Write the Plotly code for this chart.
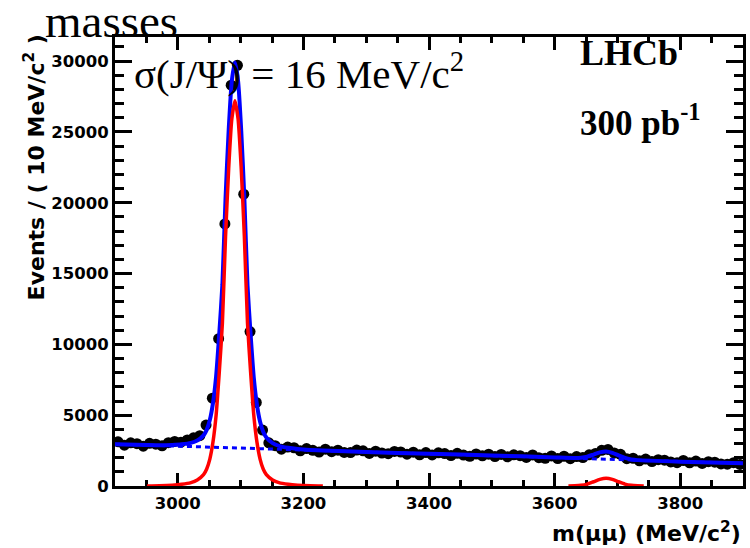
import plotly.graph_objects as go

# ---------------- data ----------------
bin_centers = list(range(2905, 3900, 10))  # 100 bins of 10 MeV/c^2
events = [
    3120, 2880, 3050, 2990, 2810, 3010, 2950, 2840, 3060, 3150,
    3090, 3250, 3400, 3550, 4300, 6200, 10400, 18500, 28300, 29700,
    20600, 10900, 5900, 3950, 3050, 2850, 2600, 2750, 2700, 2480,
    2640, 2520, 2400, 2600, 2420, 2530, 2370, 2360, 2540, 2480,
    2300, 2460, 2330, 2280, 2440, 2400, 2250, 2390, 2200, 2360,
    2190, 2340, 2290, 2150, 2310, 2180, 2100, 2260, 2130, 2250,
    2080, 2230, 2060, 2200, 2140, 2020, 2190, 2000, 1960, 2120,
    1940, 2100, 1930, 2080, 2010, 2200, 2300, 2520, 2580, 2330,
    2240, 1930, 1960, 1780, 1900, 1730, 1860, 1820, 1700, 1650,
    1800, 1640, 1760, 1590, 1720, 1680, 1560, 1540, 1650, 1520,
]

# total fit (signal + background)
fit_mass = [2900, 2951, 2971, 2991, 3006, 3021, 3031, 3041, 3046, 3051, 3056, 3061,
            3066, 3071, 3076, 3081, 3086, 3091, 3096, 3101, 3106, 3111, 3116, 3121,
            3126, 3131, 3136, 3141, 3151, 3161, 3176, 3191, 3211, 3231, 3300, 3400,
            3500, 3600, 3632, 3642, 3652, 3662, 3672, 3682, 3692, 3702, 3712, 3722,
            3732, 3800, 3900]
fit_total = [2950, 2894, 2880, 2901, 2942, 3041, 3207, 3573, 3966, 4658, 5852, 7743,
             10735, 14228, 20318, 25111, 28602, 29895, 28586, 25079, 20271, 14165, 10657, 7650,
             5744, 4537, 3830, 3423, 3029, 2835, 2694, 2613, 2545, 2502, 2400, 2280,
             2160, 2020, 1981, 2000, 2074, 2221, 2374, 2439, 2343, 2157, 1980, 1876,
             1827, 1720, 1600]

# background component
bkg_mass = [2900, 2950, 3000, 3050, 3100, 3150, 3200, 3250, 3300, 3350, 3400,
            3450, 3500, 3550, 3600, 3650, 3700, 3750, 3800, 3850, 3900]
bkg_val = [2950, 2890, 2830, 2760, 2680, 2610, 2540, 2470, 2400, 2340, 2280,
           2220, 2160, 2090, 2020, 1940, 1860, 1790, 1720, 1660, 1600]

# signal components (J/psi and psi(2S))
jpsi_mass = [2951, 2971, 2991, 3006, 3021, 3031, 3041, 3046, 3051, 3056, 3061, 3066,
             3071, 3076, 3081, 3086, 3091, 3096, 3101, 3106, 3111, 3116, 3121, 3126,
             3131, 3136, 3141, 3151, 3161, 3176, 3191, 3211, 3231]
jpsi_sig = [5, 20, 60, 120, 240, 420, 800, 1200, 1900, 3100, 5000, 8000,
            11500, 17600, 22400, 25900, 27200, 25900, 22400, 17600, 11500, 8000, 5000, 3100,
            1900, 1200, 800, 420, 240, 120, 60, 20, 5]
psi2s_mass = [3622, 3632, 3642, 3652, 3662, 3672, 3682, 3692, 3702, 3712, 3722, 3732, 3742]
psi2s_sig = [0, 12, 47, 137, 300, 470, 550, 470, 300, 137, 47, 12, 0]

x_ticks = [3000, 3200, 3400, 3600, 3800]
x_labels = ["3000", "3200", "3400", "3600", "3800"]
y_ticks = [0, 5000, 10000, 15000, 20000, 25000, 30000]
y_labels = ["0", "5000", "10000", "15000", "20000", "25000", "30000"]

# ---------------- layout geometry ----------------
W, H = 750, 548
L, R, T, B = 115, 746, 37, 486


def px(x):
    return (x - L) / (R - L)


def py(y):
    return (B - y) / (B - T)


fig = go.Figure()
fig.add_trace(go.Scatter(x=bin_centers, y=events, mode="markers",
                         marker=dict(color="black", size=11, line=dict(width=0)),
                         showlegend=False))
fig.add_trace(go.Scatter(x=fit_mass, y=fit_total, mode="lines",
                         line=dict(color="#0000ff", width=4, shape="spline", smoothing=0.6),
                         showlegend=False))
fig.add_trace(go.Scatter(x=bkg_mass, y=bkg_val, mode="lines",
                         line=dict(color="#0000ff", width=3, dash="5px,4px"),
                         showlegend=False))
fig.add_trace(go.Scatter(x=jpsi_mass + [None] + psi2s_mass,
                         y=jpsi_sig + [None] + psi2s_sig, mode="lines",
                         line=dict(color="#ff0000", width=3.5, shape="spline", smoothing=0.6),
                         connectgaps=False, showlegend=False))

tickfont = dict(family="DejaVu Sans", size=16.5, color="black", weight="bold")

fig.update_xaxes(range=[2900, 3900], tickvals=x_ticks, ticktext=x_labels, ticks="inside",
                 ticklen=13, tickwidth=2.5, tickcolor="black", showline=True, linewidth=3,
                 linecolor="black", mirror="ticks", showgrid=False, zeroline=False,
                 tickfont=tickfont, layer="below traces",
                 minor=dict(dtick=50, tick0=2900, ticks="inside", ticklen=6,
                            tickwidth=2.5, tickcolor="black", showgrid=False))
fig.update_yaxes(range=[0, 31700], tickvals=y_ticks, ticktext=y_labels, ticks="inside",
                 ticklen=17, tickwidth=2.5, tickcolor="black", showline=True, linewidth=3,
                 linecolor="black", mirror="ticks", showgrid=False, zeroline=False,
                 tickfont=tickfont, layer="below traces",
                 minor=dict(dtick=1000, tick0=0, ticks="inside", ticklen=9,
                            tickwidth=2.5, tickcolor="black", showgrid=False))

serif = "Liberation Serif"
ann = [
    dict(text="masses", x=px(43), y=py(21), xanchor="left", yanchor="middle",
         font=dict(family=serif, size=47, color="black")),
    dict(text="σ(J/Ψ) = 16 MeV/c<sup>2</sup>", x=px(132), y=py(71), xanchor="left",
         yanchor="middle", font=dict(family=serif, size=41, color="black")),
    dict(text="LHCb", x=px(580), y=py(53), xanchor="left", yanchor="middle",
         font=dict(family=serif, size=36, color="black", weight="bold")),
    dict(text="300 pb<sup>-1</sup>", x=px(580), y=py(120), xanchor="left", yanchor="middle",
         font=dict(family=serif, size=35, color="black", weight="bold")),
    dict(text="Events / ( 10 MeV/c<sup>2</sup> )", x=px(34), y=py(167), textangle=-90,
         xanchor="center", yanchor="middle",
         font=dict(family="DejaVu Sans", size=22, color="black", weight="bold")),
    dict(text="m(μμ) (MeV/c<sup>2</sup>)", x=px(746), y=py(532), xanchor="right",
         yanchor="middle",
         font=dict(family="DejaVu Sans", size=22, color="black", weight="bold")),
]
for a in ann:
    a.update(xref="paper", yref="paper", showarrow=False)

fig.update_layout(width=W, height=H, margin=dict(l=L, r=W - R, t=T, b=H - B),
                  plot_bgcolor="white", paper_bgcolor="white", annotations=ann)

fig.write_html("out.html")
